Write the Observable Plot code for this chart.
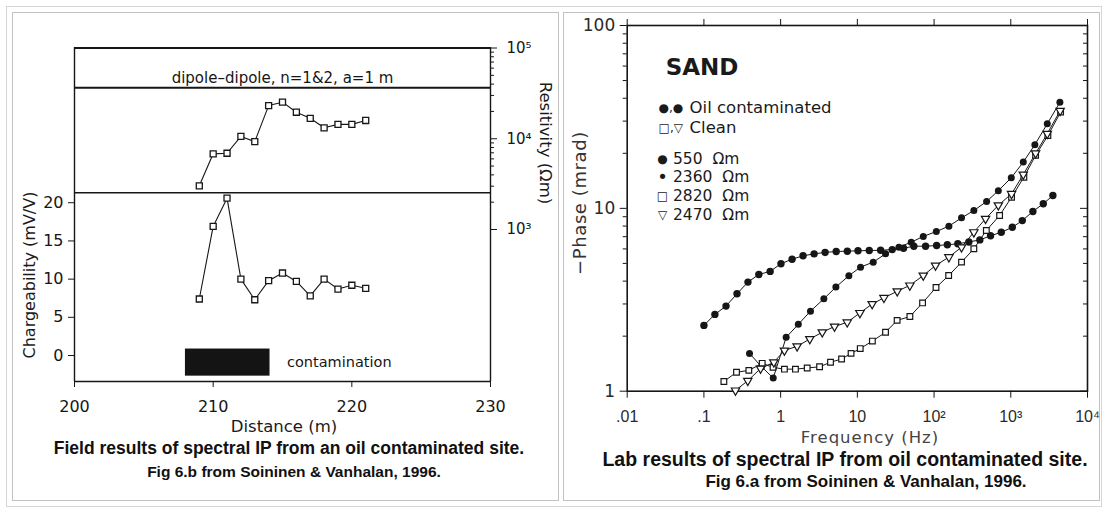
<!DOCTYPE html>
<html><head><meta charset="utf-8">
<script src="https://cdn.jsdelivr.net/npm/d3@7"></script>
<script src="https://cdn.jsdelivr.net/npm/@observablehq/plot@0.6"></script>
<style>
body{margin:0;background:#fff;}
#root{position:relative;width:1106px;height:512px;overflow:hidden;background:#fff;font-family:"DejaVu Sans",sans-serif;color:#1a1a1a;}
.box{position:absolute;box-sizing:border-box;}
.t{position:absolute;white-space:nowrap;transform:translate(-50%,-50%);line-height:1;}
.cap{font-family:"Liberation Sans",Arial,sans-serif;font-weight:bold;color:#111;}
.row{position:absolute;display:flex;align-items:center;height:16px;line-height:16px;white-space:nowrap;font-size:16px;color:#1a1a1a;}
.sym{display:inline-block;font-size:12px;text-align:center;}
</style></head>
<body><div id="root"></div>
<script>
// ---------- Field results (left panel) ----------
const distance = [209, 210, 211, 212, 213, 214, 215, 216, 217, 218, 219, 220, 221];
const chargeability = [7.4, 16.9, 20.6, 10.0, 7.3, 9.8, 10.8, 9.7, 7.8, 10.0, 8.7, 9.2, 8.8];
const resistivity = [3030, 6820, 6920, 10600, 9300, 23200, 25300, 19600, 16800, 13200, 14400, 14400, 15900];
const distanceDomain = [200, 230];
const distanceTicks = [200, 210, 220, 230];
const chargeDomain = [-3.4, 21.3];
const chargeTicks = [0, 5, 10, 15, 20];
const resistivityTicks = [1e3, 1e4, 1e5];
const resistivityTickLabels = ["10³", "10⁴", "10⁵"];
const resistivityMinor = [2e3, 3e3, 4e3, 5e3, 6e3, 7e3, 8e3, 9e3, 2e4, 3e4, 4e4, 5e4, 6e4, 7e4, 8e4, 9e4];
const headerLines = [1e5, 36400];
const headerText = "dipole\u2013dipole, n=1&2, a=1 m";
const contamination = [{from: 208.0, to: 214.1, low: -2.7, high: 0.85, label: "contamination"}];

// ---------- Lab results (right panel) ----------
const freqTicks = [0.01, 0.1, 1, 10, 100, 1000, 10000];
const freqTickLabels = [".01", ".1", "1", "10", "10²", "10³", "10⁴"];
const phaseTicks = [1, 10, 100];
const phaseTickLabels = ["1", "10", "100"];
const phaseMinor = [2, 3, 4, 5, 6, 7, 8, 9, 20, 30, 40, 50, 60, 70, 80, 90];

const freq550 = [0.1, 0.139, 0.194, 0.27, 0.375, 0.52, 0.73, 1.01, 1.41, 1.96, 2.73, 3.8, 5.3, 7.4, 10.2, 14.3, 20.1, 28.5, 40, 54.5, 77.5, 108, 149, 204, 284, 395, 545, 752, 1047, 1413, 1942, 2653, 3540];
const phase550 = [2.29, 2.63, 2.92, 3.41, 3.95, 4.35, 4.52, 4.98, 5.27, 5.50, 5.64, 5.74, 5.81, 5.83, 5.86, 5.88, 5.9, 5.95, 6.05, 6.21, 6.21, 6.26, 6.32, 6.40, 6.55, 6.72, 7.08, 7.40, 7.88, 8.57, 9.62, 10.6, 11.75];

const freq2360 = [0.393, 0.564, 0.801, 1.18, 1.70, 2.45, 3.66, 5.25, 7.75, 11.0, 16.1, 23.3, 34.8, 50.4, 72.3, 107, 156, 228, 330, 484, 688, 1015, 1455, 2060, 2990, 4365];
const phase2360 = [1.61, 1.36, 1.18, 1.97, 2.32, 2.74, 3.20, 3.71, 4.28, 4.77, 5.08, 5.64, 6.13, 6.53, 7.02, 7.47, 7.99, 8.87, 9.73, 10.9, 12.5, 14.7, 17.9, 22.3, 29.0, 38.0];

const freq2820 = [0.182, 0.266, 0.385, 0.575, 0.796, 1.12, 1.56, 2.22, 3.22, 4.47, 6.23, 8.28, 10.9, 15.7, 23.3, 33, 48.4, 70.8, 106, 155, 228, 330, 480, 715, 1023, 1482, 2106, 3048, 4460];
const phase2820 = [1.13, 1.27, 1.30, 1.42, 1.35, 1.32, 1.32, 1.34, 1.36, 1.44, 1.50, 1.61, 1.71, 1.88, 2.10, 2.44, 2.56, 3.04, 3.69, 4.29, 5.08, 6.01, 7.57, 9.14, 11.5, 14.8, 19.5, 25.0, 33.6];

const freq2470 = [0.258, 0.373, 0.547, 0.815, 1.12, 1.64, 2.40, 3.49, 5.04, 7.38, 10.8, 15.6, 22.2, 33.1, 48.3, 72.3, 104.5, 156, 228, 330, 469, 688, 1023, 1455, 2106, 2990, 4400];
const phase2470 = [1.01, 1.14, 1.33, 1.44, 1.67, 1.76, 1.93, 2.10, 2.26, 2.38, 2.68, 3.00, 3.24, 3.52, 3.79, 4.29, 4.87, 5.41, 6.13, 7.41, 8.77, 10.4, 12.0, 15.3, 20.0, 25.6, 34.2];

// ---------- build ----------
const root = document.getElementById("root");
const ink = "#161616";
const baseStyle = {background: "transparent", fontFamily: "'DejaVu Sans', sans-serif", fontSize: "16px", color: ink, overflow: "visible"};

const field = distance.map((d, i) => ({d, m: chargeability[i], r: resistivity[i]}));
const pairs = (f, p) => f.map((v, i) => ({f: v, p: p[i]}));
const s550 = pairs(freq550, phase550), s2360 = pairs(freq2360, phase2360), s2820 = pairs(freq2820, phase2820), s2470 = pairs(freq2470, phase2470);

const resLabel = new Map(resistivityTicks.map((t, i) => [t, resistivityTickLabels[i]]));
const freqLabel = new Map(freqTicks.map((t, i) => [t, freqTickLabels[i]]));
const phaseLabel = new Map(phaseTicks.map((t, i) => [t, phaseTickLabels[i]]));
const blank = () => "";

const triangleDown = {draw(ctx, size) {
  const s = Math.sqrt(size / (Math.sqrt(3) / 4)), h = s * Math.sqrt(3) / 2;
  ctx.moveTo(-s / 2, -h / 3); ctx.lineTo(s / 2, -h / 3); ctx.lineTo(0, 2 * h / 3); ctx.closePath();
}};

function place(el, left, top) {
  el.style.position = "absolute"; el.style.left = left + "px"; el.style.top = top + "px";
  root.appendChild(el);
}

// borders (table-like frame)
function box(l, t, w, h, c) {
  const d = document.createElement("div"); d.className = "box";
  Object.assign(d.style, {left: l + "px", top: t + "px", width: w + "px", height: h + "px", border: "1px solid " + c});
  root.appendChild(d);
}
box(6, 6, 1096, 501, "#d6d6d6");
box(12, 12, 547, 489, "#c2c2c2");
box(563, 12, 537, 489, "#c2c2c2");

const leftDims = {width: 560, height: 440, marginLeft: 74, marginRight: 70, marginTop: 47, marginBottom: 59};

// chargeability layer
const chargePlot = Plot.plot({
  ...leftDims,
  style: baseStyle,
  x: {domain: distanceDomain, label: null},
  y: {domain: chargeDomain, range: [381, 192.3], label: null},
  marks: [
    Plot.ruleX(distanceDomain, {stroke: ink, strokeWidth: 1.4}),
    Plot.ruleY(chargeDomain, {stroke: ink, strokeWidth: 1.4}),
    Plot.rect(contamination, {x1: "from", x2: "to", y1: "low", y2: "high", fill: "#141414"}),
    Plot.text(contamination, {x: "to", y: d => (d.low + d.high) / 2, text: "label", textAnchor: "start", dx: 17, fontSize: 14.5, fill: ink}),
    Plot.axisX({ticks: distanceTicks, tickSize: 6, tickPadding: 13, fontSize: 16, stroke: ink, fill: ink, label: null}),
    Plot.axisY({ticks: chargeTicks, tickSize: 6, tickPadding: 5, fontSize: 16, stroke: ink, fill: ink, label: null}),
    Plot.line(field, {x: "d", y: "m", stroke: ink, strokeWidth: 1.1}),
    Plot.dot(field, {x: "d", y: "m", symbol: "square", r: 3.4, fill: "white", stroke: ink, strokeWidth: 1.3})
  ]
});
place(chargePlot, 0, 0);

// resistivity layer
const resPlot = Plot.plot({
  ...leftDims,
  style: baseStyle,
  x: {domain: distanceDomain, axis: null, label: null},
  y: {type: "log", domain: [1e3, 1e5], range: [229, 47.5], label: null},
  marks: [
    Plot.ruleY(headerLines, {stroke: ink, strokeWidth: 2}),
    Plot.axisY({anchor: "right", ticks: resistivityMinor, tickFormat: blank, tickSize: 3, stroke: ink, label: null}),
    Plot.axisY({anchor: "right", ticks: resistivityTicks, tickFormat: d => resLabel.get(d), tickSize: 6, tickPadding: 10, fontSize: 15, stroke: ink, fill: ink, label: null}),
    Plot.text([headerText], {frameAnchor: "top", dy: 25, fontSize: 15, fill: ink}),
    Plot.line(field, {x: "d", y: "r", stroke: ink, strokeWidth: 1.1}),
    Plot.dot(field, {x: "d", y: "r", symbol: "square", r: 3.4, fill: "white", stroke: ink, strokeWidth: 1.3})
  ]
});
place(resPlot, 0, 0);

// right panel
const labPlot = Plot.plot({
  width: 540, height: 440, marginLeft: 66.7, marginRight: 13, marginTop: 25, marginBottom: 49.3,
  style: baseStyle,
  x: {type: "log", domain: [freqTicks[0], freqTicks[freqTicks.length - 1]], label: null},
  y: {type: "log", domain: [phaseTicks[0], phaseTicks[phaseTicks.length - 1]], label: null},
  marks: [
    Plot.frame({stroke: ink, strokeWidth: 1.6}),
    Plot.axisX({ticks: freqTicks, tickFormat: d => freqLabel.get(d), tickSize: 7, tickPadding: 12, fontSize: 16, fontFamily: "'Liberation Sans', Arial, sans-serif", stroke: ink, fill: "#2a2a2a", label: null}),
    Plot.axisX({anchor: "top", ticks: freqTicks, tickFormat: blank, tickSize: 7, stroke: ink, label: null}),
    Plot.axisY({ticks: phaseMinor, tickFormat: blank, tickSize: 4, stroke: ink, label: null}),
    Plot.axisY({ticks: phaseTicks, tickFormat: d => phaseLabel.get(d), tickSize: 7, tickPadding: 5, fontSize: 17, stroke: ink, fill: "#2a2a2a", label: null}),
    Plot.axisY({anchor: "right", ticks: phaseMinor, tickFormat: blank, tickSize: -5, stroke: ink, label: null}),
    Plot.axisY({anchor: "right", ticks: phaseTicks, tickFormat: blank, tickSize: -8, stroke: ink, label: null}),
    Plot.line(s550, {x: "f", y: "p", stroke: ink, strokeWidth: 1}),
    Plot.line(s2360, {x: "f", y: "p", stroke: ink, strokeWidth: 1}),
    Plot.line(s2820, {x: "f", y: "p", stroke: ink, strokeWidth: 1}),
    Plot.line(s2470, {x: "f", y: "p", stroke: ink, strokeWidth: 1}),
    Plot.dot(s550, {x: "f", y: "p", r: 3.7, fill: ink, stroke: "none"}),
    Plot.dot(s2360, {x: "f", y: "p", r: 3.5, fill: ink, stroke: "none"}),
    Plot.dot(s2820, {x: "f", y: "p", symbol: "square", r: 3.2, fill: "white", stroke: ink, strokeWidth: 1.2}),
    Plot.dot(s2470, {x: "f", y: "p", symbol: triangleDown, r: 3.1, fill: "white", stroke: ink, strokeWidth: 1.2})
  ]
});
place(labPlot, 560, 0);

// ---------- HTML text: axis titles, legend, captions ----------
function label(text, cx, cy, css, rot) {
  const d = document.createElement("div"); d.className = "t"; d.textContent = text;
  d.style.left = cx + "px"; d.style.top = cy + "px";
  Object.assign(d.style, css || {});
  if (rot) d.style.transform = "translate(-50%,-50%) rotate(" + rot + "deg)";
  root.appendChild(d);
  return d;
}
label("Chargeability (mV/V)", 30, 275, {fontSize: "16px"}, -90);
label("Resitivity (\u03a9m)", 545, 143, {fontSize: "16.5px"}, 90);
label("Distance (m)", 284, 427, {fontSize: "16.5px"});
const c1 = label("Field results of spectral IP from an oil contaminated site.", 289, 449, {fontSize: "17.5px"}); c1.classList.add("cap");
const c2 = label("Fig 6.b from Soininen & Vanhalan, 1996.", 294, 472, {fontSize: "15.5px"}); c2.classList.add("cap");

label("\u2212Phase (mrad)", 580, 203, {fontSize: "18px", letterSpacing: "0.6px", color: "#333"}, -90);
label("Frequency (Hz)", 870, 438, {fontSize: "16.5px", letterSpacing: "1px", color: "#444"});
const c3 = label("Lab results of spectral IP from oil contaminated site.", 845, 460, {fontSize: "19.5px"}); c3.classList.add("cap");
const c4 = label("Fig 6.a from Soininen & Vanhalan, 1996.", 866, 481, {fontSize: "17px"}); c4.classList.add("cap");

label("SAND", 702, 67, {fontSize: "23px", fontWeight: "bold", color: "#1a1a1a"});

const legendRows = [
  {sym: "\u25cf,\u25cf", symW: 37.6, text: "Oil contaminated", cy: 108, size: 16.5},
  {sym: "\u25a1,\u25bd", symW: 37.6, text: "Clean", cy: 128, size: 16.5},
  {sym: "\u25cf", symW: 21, text: "550\u00a0\u00a0\u03a9m", cy: 159, size: 15.5},
  {sym: "\u2022", symW: 21, text: "2360\u00a0\u00a0\u03a9m", cy: 177, size: 15.5},
  {sym: "\u25a1", symW: 21, text: "2820\u00a0\u00a0\u03a9m", cy: 196, size: 15.5},
  {sym: "\u25bd", symW: 21, text: "2470\u00a0\u00a0\u03a9m", cy: 215, size: 15.5}
];
for (const r of legendRows) {
  const row = document.createElement("div"); row.className = "row";
  row.style.left = "652px"; row.style.top = (r.cy - 8) + "px"; row.style.fontSize = r.size + "px";
  const s = document.createElement("span"); s.className = "sym"; s.textContent = r.sym;
  s.style.width = r.symW + "px"; if (r.sym === "\u2022") s.style.fontSize = "18px";
  const t = document.createElement("span"); t.textContent = r.text;
  row.appendChild(s); row.appendChild(t); root.appendChild(row);
}
</script>
</body></html>
